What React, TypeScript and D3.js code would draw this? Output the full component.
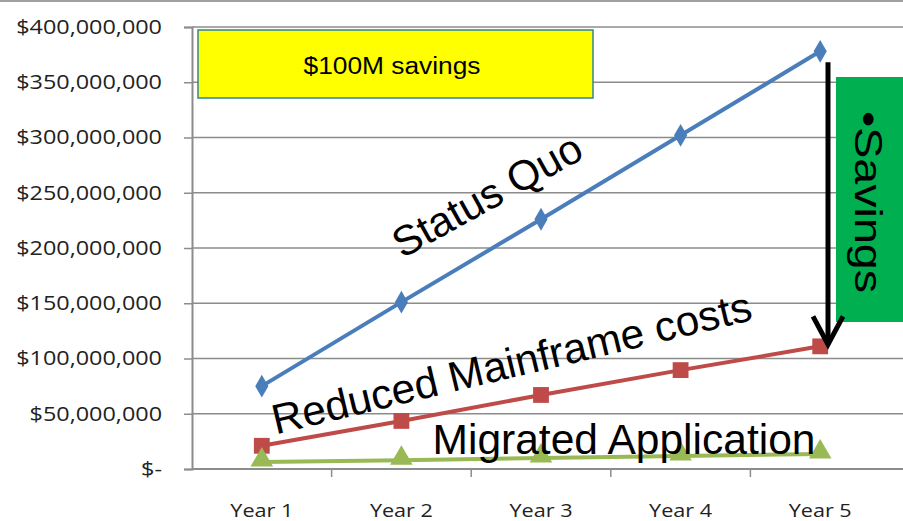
import React, { useEffect, useRef } from 'react'
import * as d3 from 'd3'

const years = ['Year 1', 'Year 2', 'Year 3', 'Year 4', 'Year 5']
const statusQuo = [75000000, 151000000, 226000000, 302000000, 378000000]
const reducedMainframe = [21000000, 43500000, 67000000, 89500000, 111000000]
const migratedApp = [6300000, 8000000, 10000000, 11800000, 13600000]
const yTicks = [0, 50000000, 100000000, 150000000, 200000000, 250000000, 300000000, 350000000, 400000000]

const seriesList = [
  { name: 'Status Quo', values: statusQuo, color: '#4a7ebb', marker: 'diamond' },
  { name: 'Reduced Mainframe costs', values: reducedMainframe, color: '#be4b48', marker: 'square' },
  { name: 'Migrated Application', values: migratedApp, color: '#98b954', marker: 'triangle' },
]

export default function App() {
  const ref = useRef<SVGSVGElement | null>(null)

  useEffect(() => {
    if (!ref.current) return
    const svg = d3.select(ref.current)
    svg.selectAll('*').remove()

    const width = 903, height = 521
    const left = 192, right = 890, top = 27, bottom = 469

    const x = d3.scaleBand().domain(years).range([left, right])
    const y = d3.scaleLinear().domain([0, 400000000]).range([bottom, top])
    const cx = (d: string) => x(d)! + x.bandwidth() / 2

    svg.append('rect').attr('width', width).attr('height', height).attr('fill', '#fff')
    svg.append('line').attr('x1', 0).attr('x2', width).attr('y1', 1).attr('y2', 1).attr('stroke', '#a0a0a0').attr('stroke-width', 2)

    // gridlines
    svg.append('g').selectAll('line').data(yTicks.slice(1)).enter().append('line')
      .attr('x1', left).attr('x2', width).attr('y1', d => y(d)).attr('y2', d => y(d))
      .attr('stroke', '#8c8c8c').attr('stroke-width', 1.5)

    const sx = 1.2
    const fmt = (v: number) => v === 0 ? '$-' : '$' + d3.format(',')(v)
    const yAxis = d3.axisLeft(y).tickValues(yTicks).tickSize(8).tickFormat(d => fmt(+d))
    const gy = svg.append('g').attr('transform', `translate(${left},0)`).call(yAxis)
    gy.select('.domain').attr('stroke', '#8c8c8c').attr('stroke-width', 2)
    gy.selectAll('.tick line').attr('stroke', '#8c8c8c').attr('stroke-width', 1.5)
    gy.selectAll('.tick text').attr('x', -30 / sx).attr('transform', `scale(${sx},1)`)
      .attr('font-family', 'Open Sans, sans-serif').attr('font-size', 19.5).attr('fill', '#222')

    const xAxis = d3.axisBottom(x).tickSize(0).tickPadding(0)
    const gx = svg.append('g').attr('transform', `translate(0,${bottom})`).call(xAxis)
    gx.select('.domain').remove()
    gx.selectAll('.tick text').attr('y', 35).attr('dy', '0.71em').attr('x', 0)
      .attr('transform', `scale(${sx},1)`)
      .attr('font-family', 'Open Sans, sans-serif').attr('font-size', 18).attr('fill', '#222')
    svg.append('line').attr('x1', left).attr('x2', width).attr('y1', bottom).attr('y2', bottom).attr('stroke', '#8c8c8c').attr('stroke-width', 2)
    svg.append('g').selectAll('line').data(years.slice(1)).enter().append('line')
      .attr('x1', d => x(d)!).attr('x2', d => x(d)!).attr('y1', bottom).attr('y2', bottom + 8)
      .attr('stroke', '#8c8c8c').attr('stroke-width', 1.5)

    const line = d3.line<number>().x((_, i) => cx(years[i])).y(d => y(d))
    seriesList.forEach(s => {
      svg.append('path').attr('d', line(s.values)).attr('fill', 'none').attr('stroke', s.color).attr('stroke-width', 4)
      const sym = s.marker === 'diamond' ? d3.symbolDiamond : s.marker === 'square' ? d3.symbolSquare : d3.symbolTriangle
      const size = s.marker === 'diamond' ? 150 : s.marker === 'square' ? 250 : 220
      svg.append('g').selectAll('path').data(s.values).enter().append('path')
        .attr('d', d3.symbol().type(sym).size(size)())
        .attr('transform', (d, i) => `translate(${cx(years[i])},${y(d) - (s.marker === 'triangle' ? 2 : 0)})`)
        .attr('fill', s.color)
    })

    // annotations
    const font = 'Liberation Sans, Arial, sans-serif'
    const big = (t: string, tr: string, len: number, size = 42) =>
      svg.append('text').attr('transform', tr).attr('text-anchor', 'middle')
        .attr('font-family', font).attr('font-size', size).attr('fill', '#000')
        .attr('textLength', len).attr('lengthAdjust', 'spacingAndGlyphs').text(t)
    big('Status Quo', 'translate(494,208) rotate(-29)', 210)
    big('Reduced Mainframe costs', 'translate(515,377) rotate(-13.5)', 492)
    big('Migrated Application', 'translate(624,454)', 383)

    svg.append('rect').attr('x', 198).attr('y', 30).attr('width', 395).attr('height', 68)
      .attr('fill', '#ffff00').attr('stroke', '#31849b').attr('stroke-width', 1.5)
    svg.append('text').attr('x', 392).attr('y', 74).attr('text-anchor', 'middle')
      .attr('font-family', font).attr('font-size', 23).attr('fill', '#000')
      .attr('textLength', 177).attr('lengthAdjust', 'spacingAndGlyphs').text('$100M savings')

    svg.append('rect').attr('x', 836).attr('y', 77).attr('width', 67).attr('height', 245).attr('fill', '#00b050')
    svg.append('text').attr('transform', 'translate(855,111) rotate(90)').attr('text-anchor', 'start')
      .attr('font-family', font).attr('font-size', 38).attr('fill', '#000')
      .attr('textLength', 182).attr('lengthAdjust', 'spacingAndGlyphs').text('•Savings')

    // arrow
    const ax = 828
    const tipY = y(reducedMainframe[4]) + 2
    svg.append('line').attr('x1', ax).attr('x2', ax).attr('y1', y(statusQuo[4]) + 11).attr('y2', tipY - 4)
      .attr('stroke', '#000').attr('stroke-width', 5)
    svg.append('path').attr('d', `M${ax - 15},${tipY - 32} L${ax},${tipY - 4} L${ax + 15},${tipY - 32}`)
      .attr('fill', 'none').attr('stroke', '#000').attr('stroke-width', 5)
  }, [])

  return <svg ref={ref} width={903} height={521} style={{ position: 'absolute', left: 0, top: 0 }} />
}
